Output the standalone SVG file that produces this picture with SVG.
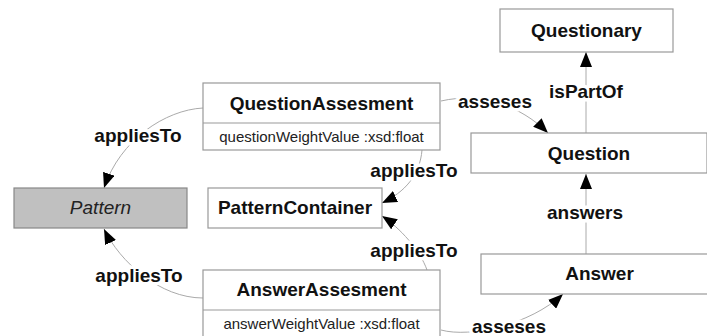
<svg xmlns="http://www.w3.org/2000/svg" width="707" height="336" viewBox="0 0 707 336">
<defs>
<style>
.box{fill:#fff;stroke:#999;stroke-width:1.2}
.abs{fill:#c0c0c0;stroke:#888;stroke-width:1.2}
.t{font-family:"Liberation Sans",Arial,sans-serif;font-size:19px;font-weight:bold;fill:#111;text-anchor:middle}
.it{font-family:"Liberation Sans",Arial,sans-serif;font-size:19px;font-style:italic;fill:#222;text-anchor:middle}
.a{font-family:"Liberation Sans",Arial,sans-serif;font-size:15px;fill:#222;text-anchor:middle}
.lbl{font-family:"Liberation Sans",Arial,sans-serif;font-size:19px;font-weight:bold;fill:#111;text-anchor:middle;stroke:#fff;stroke-width:7;stroke-linejoin:round;paint-order:stroke}
.edge{fill:none;stroke:#aaa;stroke-width:1;marker-end:url(#arr)}
</style>
<marker id="arr" markerUnits="userSpaceOnUse" markerWidth="16" markerHeight="12" refX="15" refY="6" orient="auto">
<path d="M0,0 L15,6 L0,12 z" fill="#000"/>
</marker>
</defs>
<rect width="707" height="336" fill="#fff"/>
<g id="connectors">
<path class="edge" d="M203,108 C165,110 120,140 104,188"/>
<path class="edge" d="M203,298 C160,298 120,262 104,229"/>
<path class="edge" d="M422,150 C420,175 405,192 382,203"/>
<path class="edge" d="M427,270 C420,250 400,228 382,216"/>
<path class="edge" d="M441,101 C480,92 520,105 548,133"/>
<path class="edge" d="M441,330 C470,338 530,325 563,294"/>
<path class="edge" d="M586,133 L586,52"/>
<path class="edge" d="M586,254 L586,174"/>
<text class="lbl" x="138" y="142">appliesTo</text>
<text class="lbl" x="139" y="282">appliesTo</text>
<text class="lbl" x="414" y="177">appliesTo</text>
<text class="lbl" x="414" y="257">appliesTo</text>
<text class="lbl" x="495" y="108">asseses</text>
<text class="lbl" x="586" y="98">isPartOf</text>
<text class="lbl" x="585" y="219">answers</text>
<text class="lbl" x="509" y="333">asseses</text>
</g>
<g id="Questionary">
<rect class="box" x="500" y="9" width="173" height="43"/>
<text class="t" x="586.5" y="37">Questionary</text>
</g>
<g id="QuestionAssesment">
<rect class="box" x="203" y="83" width="237" height="67"/>
<line x1="203" y1="123" x2="440" y2="123" stroke="#999" stroke-width="1.2"/>
<text class="t" x="321.5" y="109.5">QuestionAssesment</text>
<text class="a" x="321.5" y="141.5">questionWeightValue :xsd:float</text>
</g>
<g id="Question">
<rect class="box" x="471" y="133" width="236" height="40"/>
<text class="t" x="589" y="160">Question</text>
</g>
<g id="Pattern">
<rect class="abs" x="14" y="188" width="173" height="40"/>
<text class="it" x="100.5" y="214">Pattern</text>
</g>
<g id="PatternContainer">
<rect class="box" x="208" y="188" width="174" height="40"/>
<text class="t" x="295" y="214">PatternContainer</text>
</g>
<g id="Answer">
<rect class="box" x="481" y="254" width="237" height="40"/>
<text class="t" x="599.5" y="280">Answer</text>
</g>
<g id="AnswerAssesment">
<rect class="box" x="203" y="270" width="237" height="70"/>
<line x1="203" y1="310" x2="440" y2="310" stroke="#999" stroke-width="1.2"/>
<text class="t" x="321.5" y="296">AnswerAssesment</text>
<text class="a" x="321.5" y="329">answerWeightValue :xsd:float</text>
</g>
</svg>
